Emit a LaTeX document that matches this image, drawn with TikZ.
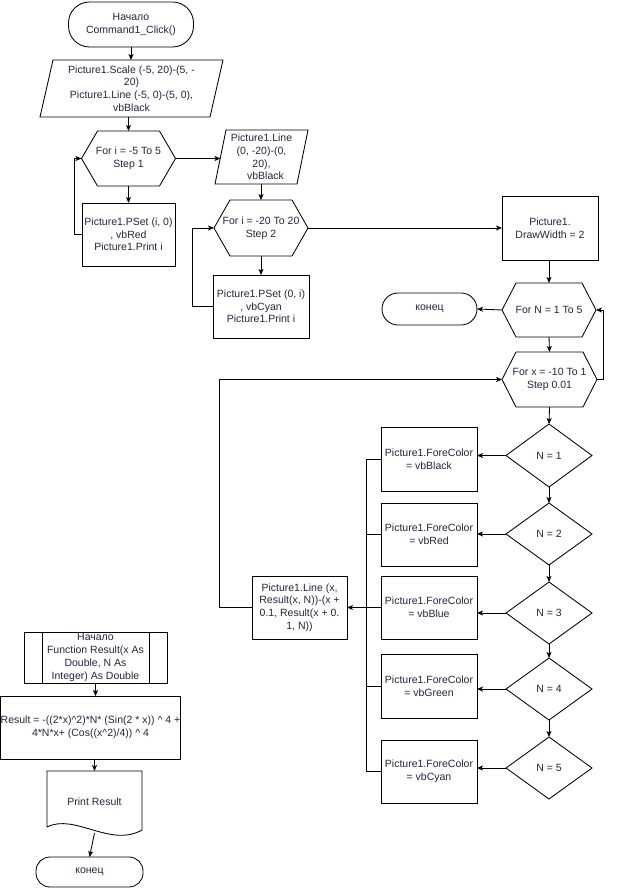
\documentclass[tikz,border=0pt]{standalone}
\usepackage{fontspec}
\setmainfont{Liberation Sans}
\usetikzlibrary{arrows.meta}
\definecolor{txtc}{RGB}{38,36,64}
\newcommand\hexdraw[2]{\draw[shp] (#1.west) -- ([xshift=#2pt]#1.north west) -- ([xshift=-#2pt]#1.north east) -- (#1.east) -- ([xshift=-#2pt]#1.south east) -- ([xshift=#2pt]#1.south west) -- cycle;}
\newcommand\diadraw[1]{\draw[shp] (#1.north) -- (#1.east) -- (#1.south) -- (#1.west) -- cycle;}
\newcommand\pardraw[2]{\draw[shp] ([xshift=#2pt]#1.north west) -- (#1.north east) -- ([xshift=-#2pt]#1.south east) -- (#1.south west) -- cycle;}
\tikzset{
  base/.style={inner sep=0pt, outer sep=0pt, text=txtc, align=center, font=\fontsize{10.5}{12.7}\selectfont},
  sz/.style 2 args={minimum width=#1pt, minimum height=#2pt},
  proc/.style={base, rectangle, draw, line width=0.85pt},
  term/.style={base, rectangle, draw, line width=0.85pt, rounded corners=#1pt},
  ghost/.style={base, rectangle},
  shp/.style={line width=0.85pt},
  conn/.style={line width=0.85pt},
  arr/.style={conn, -{Stealth[length=6pt, width=5pt, inset=1.5pt]}}
}
\begin{document}
\begin{tikzpicture}[x=1pt, y=-1pt]
\fill[white] (0,0) rectangle (624,890);
\useasboundingbox (0,0) rectangle (624,890);

% main column
\node[term=21, sz={125}{45}] (start) at (131,24.5) {Начало\\Command1\_Click()};
\node[ghost, sz={183}{57}] (par1) at (131.5,88.5) {Picture1.Scale (-5, 20)-(5, -\\20)\\Picture1.Line (-5, 0)-(5, 0),\\vbBlack};
\pardraw{par1}{13}
\node[ghost, sz={94}{55}] (h1) at (128.5,158.5) {For i = -5 To 5\\Step 1};
\hexdraw{h1}{16}
\node[proc, sz={93}{63}] (b1) at (128.5,234.5) {Picture1.PSet (i, 0)\\, vbRed\\Picture1.Print i};
\node[ghost, sz={93}{54}] (par2) at (261.5,157) {Picture1.Line\\(0, -20)-(0,\\20),\\\hspace*{8pt}vbBlack};
\pardraw{par2}{11}
\coordinate (par2in) at ([xshift=5.5pt]par2.west);
\node[ghost, sz={94}{56}] (h2) at (261,228) {For i = -20 To 20\\Step 2};
\hexdraw{h2}{16}
\node[proc, sz={96}{63}] (b2) at (261,306.5) {Picture1.PSet (0, i)\\, vbCyan\\Picture1.Print i};
\node[proc, sz={96}{64}] (bdw) at (550,228) {Picture1.\\DrawWidth = 2};
\node[ghost, sz={94}{54}] (h3) at (549,310) {For N = 1 To 5};
\hexdraw{h3}{14}
\node[term=16, sz={95}{32}] (end1) at (429.5,309) {конец};
\node[ghost, sz={95}{55}] (h4) at (549.5,379.5) {For x = -10 To 1\\Step 0.01};
\hexdraw{h4}{14}

% decisions
\node[ghost, sz={86}{63}] (d1) at (549,455.5) {N = 1};
\diadraw{d1}
\node[ghost, sz={86}{62}] (d2) at (549,534) {N = 2};
\diadraw{d2}
\node[ghost, sz={86}{62}] (d3) at (549,613) {N = 3};
\diadraw{d3}
\node[ghost, sz={86}{62}] (d4) at (549,689) {N = 4};
\diadraw{d4}
\node[ghost, sz={86}{62}] (d5) at (549,768) {N = 5};
\diadraw{d5}

\node[proc, sz={96}{64}] (c1) at (429,459) {Picture1.ForeColor\\= vbBlack};
\node[proc, sz={96}{63}] (c2) at (429,534.5) {Picture1.ForeColor\\= vbRed};
\node[proc, sz={96}{63}] (c3) at (429,607.5) {Picture1.ForeColor\\= vbBlue};
\node[proc, sz={96}{64}] (c4) at (429,686) {Picture1.ForeColor\\= vbGreen};
\node[proc, sz={96}{63}] (c5) at (429,771.5) {Picture1.ForeColor\\= vbCyan};
\node[proc, sz={95}{63}] (lb) at (299.5,607.5) {Picture1.Line (x,\\Result(x, N))-(x +\\0.1, Result(x + 0.\\1, N))};

% function
\node[proc, sz={143}{51}] (fn) at (95.5,657.5) {Начало\\Function Result(x As\\Double, N As\\Integer) As Double};
\draw[shp] ([xshift=18pt]fn.north west) -- ([xshift=18pt]fn.south west);
\draw[shp] ([xshift=-18pt]fn.north east) -- ([xshift=-18pt]fn.south east);
\node[proc, sz={179}{63}] (res) at (90.5,727.5) {Result = -((2*x)\textasciicircum 2)*N* (Sin(2 * x)) \textasciicircum{} 4 +\\4*N*x+ (Cos((x\textasciicircum 2)/4)) \textasciicircum{} 4};
\node[ghost, sz={95}{62}] (doc) at (94.5,802) {Print Result};
\draw[shp] (47,827) -- (47,771) -- (142,771) -- (142,830) .. controls (110,848) and (75,813) .. (47,827);
\node[term=14, sz={107}{30}] (end2) at (89.5,872) {конец};

% connectors
\draw[arr] (start.south) -- (start.south |- par1.north);
\draw[arr] (par1.south -| h1.north) -- (h1.north);
\draw[arr] (h1.south) -- (b1.north);
\draw[arr] (b1.west) -- ++(-8,0) |- (h1.west);
\draw[arr] (h1.east) -- (h1.east -| par2in);
\draw[arr] (par2.south -| h2.north) -- (h2.north);
\draw[arr] (h2.south) -- (b2.north);
\draw[arr] (b2.west) -- ++(-21,0) |- (h2.west);
\draw[arr] (h2.east) -- (bdw.west);
\draw[arr] (bdw.south -| h3.north) -- (h3.north);
\draw[arr] (h3.west) -- (end1.east);
\draw[arr] (h3.south) -- (h4.north);
\draw[arr] (h4.east) -- ++(6,0) |- (h3.east);
\draw[arr] (h4.south) -- (d1.north);
\draw[arr] (d1.south) -- (d2.north);
\draw[arr] (d2.south) -- (d3.north);
\draw[arr] (d3.south) -- (d4.north);
\draw[arr] (d4.south) -- (d5.north);
\draw[arr] (d1.west) -- (d1.west -| c1.east);
\draw[arr] (d2.west) -- (d2.west -| c2.east);
\draw[arr] (d3.west) -- (d3.west -| c3.east);
\draw[arr] (d4.west) -- (d4.west -| c4.east);
\draw[arr] (d5.west) -- (d5.west -| c5.east);
\draw[conn] (c1.west) -- ++(-15,0) |- (c5.west);
\draw[conn] (c2.west) -- ++(-15,0);
\draw[conn] (c4.west) -- ++(-15,0);
\draw[arr] (c3.west) -- (lb.east);
\draw[arr] (lb.west) -- ++(-33,0) |- (h4.west);
\draw[arr] (fn.south) -- (fn.south |- res.north);
\draw[arr] (res.south -| doc.north) -- (doc.north);
\draw[arr] (doc.south) -- (end2.north);
\end{tikzpicture}
\end{document}
